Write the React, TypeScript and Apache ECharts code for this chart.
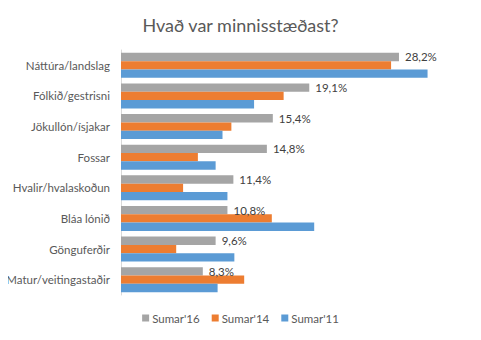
import React, { useEffect, useRef } from "react";
import * as echarts from "echarts";

const categories = [
  "Náttúra/landslag",
  "Fólkið/gestrisni",
  "Jökullón/ísjakar",
  "Fossar",
  "Hvalir/hvalaskoðun",
  "Bláa lónið",
  "Gönguferðir",
  "Matur/veitingastaðir",
];
const sumar16 = [28.2, 19.1, 15.4, 14.8, 11.4, 10.8, 9.6, 8.3];
const sumar14 = [27.4, 16.5, 11.2, 7.8, 6.3, 15.3, 5.6, 12.5];
const sumar11 = [31.1, 13.5, 10.3, 9.6, 10.8, 19.6, 11.5, 9.8];
const seriesNames = ["Sumar'16", "Sumar'14", "Sumar'11"];
const colors = ["#A5A5A5", "#ED7D31", "#5B9BD5"];

const FONT = "Lato, 'Noto Sans', sans-serif";

export default function App() {
  const ref = useRef<HTMLDivElement>(null);
  useEffect(() => {
    if (!ref.current) return;
    const chart = echarts.init(ref.current, null, { renderer: "svg" });
    const data = [sumar16, sumar14, sumar11];
    chart.setOption({
      animation: false,
      backgroundColor: "#ffffff",
      title: {
        text: "Hvað var minnisstæðast?",
        left: "center",
        top: 11,
        textStyle: { fontFamily: FONT, fontSize: 18, fontWeight: "normal", color: "#595959" },
      },
      legend: {
        bottom: 11,
        left: "center",
        itemWidth: 7,
        itemHeight: 7,
        itemGap: 12,
        icon: "rect",
        textStyle: { fontFamily: FONT, fontSize: 11.5, color: "#595959", padding: [0, 0, 0, -2] },
        data: seriesNames,
      },
      grid: { left: 121, right: 15, top: 50, bottom: 45 },
      xAxis: {
        type: "value",
        min: 0,
        max: 35,
        show: false,
      },
      yAxis: {
        type: "category",
        data: categories,
        inverse: true,
        axisLine: { show: true, lineStyle: { color: "#D9D9D9", width: 1 } },
        axisTick: { show: false },
        axisLabel: { fontFamily: FONT, fontSize: 11.5, color: "#595959", margin: 11 },
      },
      series: seriesNames.map((name, i) => ({
        name,
        type: "bar",
        data: data[i],
        itemStyle: { color: colors[i] },
        barGap: "0%",
        barCategoryGap: "18%",
        label:
          i === 0
            ? {
                show: true,
                position: "right",
                distance: 6,
                fontFamily: FONT,
                fontSize: 11.5,
                color: "#404040",
                formatter: (p: any) => p.value.toFixed(1).replace(".", ",") + "%",
              }
            : { show: false },
      })),
    });
    return () => chart.dispose();
  }, []);
  return <div ref={ref} style={{ width: 481, height: 340, margin: -8 }} />;
}
